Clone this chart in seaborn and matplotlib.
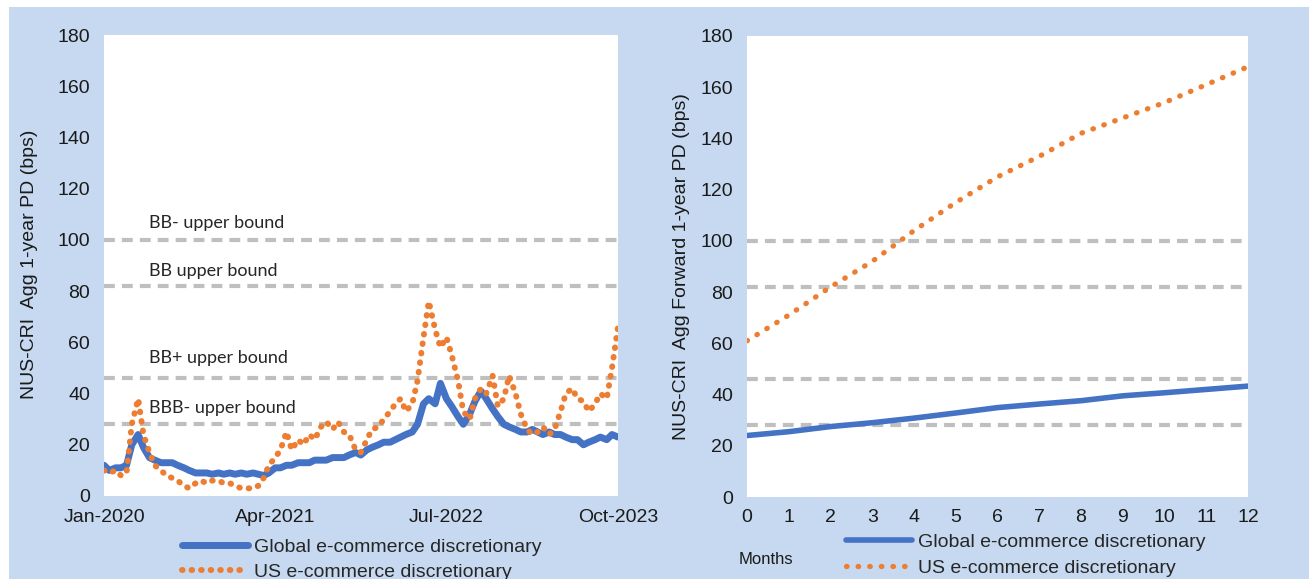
import numpy as np
import pandas as pd
import matplotlib.pyplot as plt
import matplotlib.dates as mdates
from matplotlib.patches import Rectangle
import seaborn as sns

# left panel: semi-monthly readings, Jan-2020 .. Oct-2023
dates = pd.date_range("2020-01-01", "2023-10-01", freq="SMS")
global_pd = [12, 10, 11, 11, 12, 20, 24, 19, 15, 14, 13, 13, 13, 12, 11, 10, 9, 9, 9, 8.5, 9, 8.5, 9, 8.5,
             9, 8.5, 9, 8.5, 8, 9, 11, 11, 12, 12, 13, 13, 13, 14, 14, 14, 15, 15, 15, 16, 17, 16, 18, 19,
             20, 21, 21, 22, 23, 24, 25, 28, 36, 38, 36, 44, 38, 35, 31, 28, 32, 37, 41, 38, 34, 31, 28, 27,
             26, 25, 25, 26, 25, 24, 25, 24, 24, 23, 22, 22, 20, 21, 22, 23, 22, 24, 23]
us_pd = [10, 9, 10, 8, 9, 28, 38, 24, 17, 12, 10, 8, 7, 6, 4, 3, 5, 6, 5, 6, 6, 5, 5, 4,
         3, 3, 3, 4, 7, 12, 15, 18, 25, 18, 22, 20, 24, 22, 27, 29, 26, 29, 25, 24, 18, 17, 22, 26,
         27, 30, 33, 36, 38, 33, 36, 45, 62, 76, 65, 58, 62, 55, 45, 33, 30, 38, 42, 40, 47, 35, 38, 47,
         40, 32, 26, 24, 25, 27, 24, 26, 33, 40, 42, 38, 37, 33, 36, 40, 38, 50, 66]

# right panel: forward PD by month
months = list(range(13))
global_fwd = [24, 25.5, 27.5, 29, 30.8, 32.8, 34.9, 36.3, 37.6, 39.5, 40.7, 42, 43.3]
us_fwd = [61, 71, 82, 92, 104, 115, 125, 133, 142, 148, 154, 161, 168]

bounds = [100, 82, 46, 28]
bound_labels = ["BB- upper bound", "BB upper bound", "BB+ upper bound", "BBB- upper bound"]
bound_label_y = [106.5, 88, 54, 34.5]

left = pd.DataFrame({"date": dates, "global": global_pd, "us": us_pd})
right = pd.DataFrame({"month": months, "global": global_fwd, "us": us_fwd})

BLUE = "#4472C4"
ORANGE = "#ED7D31"
GREY = "#BFBFBF"
BG = "#C6D9F0"

sns.set_theme(style="white")
plt.rcParams["font.family"] = ["Liberation Sans", "DejaVu Sans"]

fig = plt.figure(figsize=(13.09, 5.79), dpi=100, facecolor="white")
fig.add_artist(Rectangle((9 / 1309, 0), 1, 1 - 7 / 579, transform=fig.transFigure,
                         facecolor=BG, edgecolor="none", zorder=-10))

ax1 = fig.add_axes([104 / 1309, 1 - 496 / 579, 514 / 1309, 461 / 579])
ax2 = fig.add_axes([747 / 1309, 1 - 497 / 579, 501 / 1309, 461 / 579])

for ax in (ax1, ax2):
    ax.set_facecolor("white")
    for s in ax.spines.values():
        s.set_visible(False)
    for b in bounds:
        ax.axhline(b, color=GREY, lw=3, ls=(0, (2.6, 1.7)), zorder=1)
    ax.set_ylim(0, 180)
    ax.set_yticks(range(0, 181, 20))
    ax.tick_params(axis="both", length=0, labelsize=14, colors="#1a1a1a")
    ax.tick_params(axis="y", pad=10)
    ax.tick_params(axis="x", pad=9)

# left chart
sns.lineplot(data=left, x="date", y="global", ax=ax1, color=BLUE, lw=5,
             label="Global e-commerce discretionary", zorder=3)
sns.lineplot(data=left, x="date", y="us", ax=ax1, color=ORANGE, lw=4.3,
             linestyle=(0, (0.1, 1.5)), dash_capstyle="round",
             label="US e-commerce discretionary", zorder=4)
ax1.set_xlim(dates[0], dates[-1])
xt = pd.to_datetime(["2020-01-01", "2021-04-01", "2022-07-01", "2023-10-01"])
ax1.set_xticks(xt)
ax1.xaxis.set_major_formatter(mdates.DateFormatter("%b-%Y"))
ax1.set_xlabel("")
ax1.set_ylabel("")
for lab, yv in zip(bound_labels, bound_label_y):
    ax1.text(pd.Timestamp("2020-05-01"), yv, lab, fontsize=13, family=["Lato", "DejaVu Sans"],
             color="#262626", va="center", ha="left")

# right chart
sns.lineplot(data=right, x="month", y="global", ax=ax2, color=BLUE, lw=4,
             label="Global e-commerce discretionary", zorder=3)
sns.lineplot(data=right, x="month", y="us", ax=ax2, color=ORANGE, lw=3.8,
             linestyle=(0, (0.1, 2.1)), dash_capstyle="round",
             label="US e-commerce discretionary", zorder=4)
ax2.set_xlim(0, 12)
ax2.set_xticks(months)
ax2.set_xlabel("")
ax2.set_ylabel("")

ax1.legend(loc="upper left", bbox_to_anchor=(182 / 1309, 1 - 538 / 579), bbox_transform=fig.transFigure,
           frameon=False, fontsize=14, handlelength=3.4, handletextpad=0.3, labelspacing=0.4,
           borderpad=0, borderaxespad=0)
ax2.legend(loc="upper left", bbox_to_anchor=(846 / 1309, 1 - 533 / 579), bbox_transform=fig.transFigure,
           frameon=False, fontsize=14, handlelength=3.4, handletextpad=0.3, labelspacing=0.45,
           borderpad=0, borderaxespad=0)

fig.text(30 / 1309, 1 - 264 / 579, "NUS-CRI  Agg 1-year PD (bps)", rotation=90, fontsize=14,
         ha="center", va="center", color="#1a1a1a")
fig.text(681 / 1309, 1 - 267 / 579, "NUS-CRI  Agg Forward 1-year PD (bps)", rotation=90, fontsize=14,
         ha="center", va="center", color="#1a1a1a")
fig.text(766 / 1309, 1 - 559 / 579, "Months", fontsize=12, ha="center", va="center", color="#1a1a1a")

fig.savefig("out.png", dpi=100, facecolor=fig.get_facecolor())
